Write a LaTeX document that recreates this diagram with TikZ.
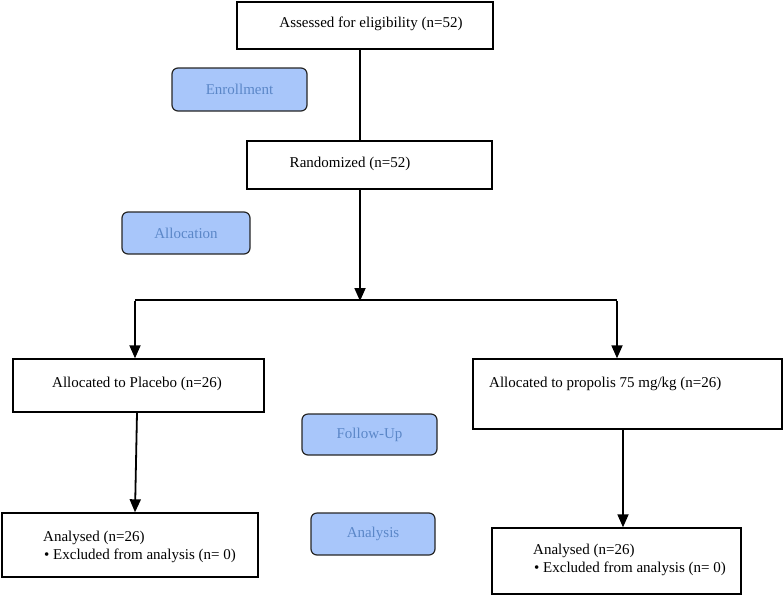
\documentclass[tikz,border=0pt]{standalone}
\usepackage{fontspec}
\setmainfont{Liberation Serif}
\usetikzlibrary{arrows.meta}
\definecolor{phasefill}{HTML}{A8C6FA}
\definecolor{phasetext}{HTML}{5B87C8}
\tikzset{
  box/.style={draw=black, line width=1.4pt, fill=white, inner sep=0pt},
  phase/.style={draw=black!85, line width=1.2pt, fill=phasefill, rounded corners=6pt,
     text=phasetext, inner sep=0pt, font=\fontsize{15}{18}\selectfont},
  txt/.style={inner sep=0pt, font=\fontsize{15}{18}\selectfont, align=left},
  conn/.style={line width=1.8pt},
  arr/.style={line width=1.8pt, -{Triangle[length=13pt,width=11pt]}}
}
\begin{document}
\begin{tikzpicture}[x=1pt,y=-1pt]
\useasboundingbox (0,0) rectangle (783,595);
% boxes (center, size)
\node[box, minimum width=256pt, minimum height=47pt] (A) at (365,25.5) {};
\node[txt] (At) at (371,24) {Assessed for eligibility (n=52)};
\node[box, minimum width=245pt, minimum height=48pt] (R) at (369.5,165) {};
\node[txt] (Rt) at (350,164) {Randomized (n=52)};
\node[box, minimum width=251pt, minimum height=53pt] (P) at (138.5,385.5) {};
\node[txt] (Pt) at (137,384) {Allocated to Placebo (n=26)};
\node[box, minimum width=309pt, minimum height=70pt] (Q) at (627.5,394) {};
\node[txt, anchor=west] (Qt) at (489,384) {Allocated to propolis 75 mg/kg (n=26)};
\node[box, minimum width=256pt, minimum height=64pt] (L) at (130,545) {};
\node[txt, anchor=west] (Lt) at (43,547) {Analysed (n=26)\\\hspace{1pt}\textbullet\ Excluded from analysis (n= 0)};
\node[box, minimum width=249pt, minimum height=66pt] (M) at (616.5,561) {};
\node[txt, anchor=west] (Mt) at (533,560) {Analysed (n=26)\\\hspace{1pt}\textbullet\ Excluded from analysis (n= 0)};
% phase labels
\node[phase, minimum width=135pt, minimum height=43pt] (E) at (239.5,89.5) {Enrollment};
\node[phase, minimum width=128pt, minimum height=42pt] (Al) at (186,233) {Allocation};
\node[phase, minimum width=135pt, minimum height=41pt] (F) at (369.5,434.5) {Follow-Up};
\node[phase, minimum width=124pt, minimum height=42pt] (An) at (373,534) {Analysis};
% connectors
\coordinate (split) at (360,300);
\coordinate (lt) at (135,300);
\coordinate (rt) at (617,300);
\draw[conn] (A.south -| split) -- (R.north -| split);
\draw[arr] (R.south -| split) -- ([yshift=-1pt]split);
\draw[conn] (lt) -- (rt);
\draw[arr] ([yshift=-0.9pt]lt) -- (P.north -| lt);
\draw[arr] ([yshift=-0.9pt]rt) -- (Q.north -| rt);
\coordinate (lb) at (135,513);
\draw[arr] ([xshift=-1.5pt]P.south) -- (L.north -| lb);
\coordinate (rb) at (623,528);
\draw[arr] (Q.south -| rb) -- (M.north -| rb);
\end{tikzpicture}
\end{document}
